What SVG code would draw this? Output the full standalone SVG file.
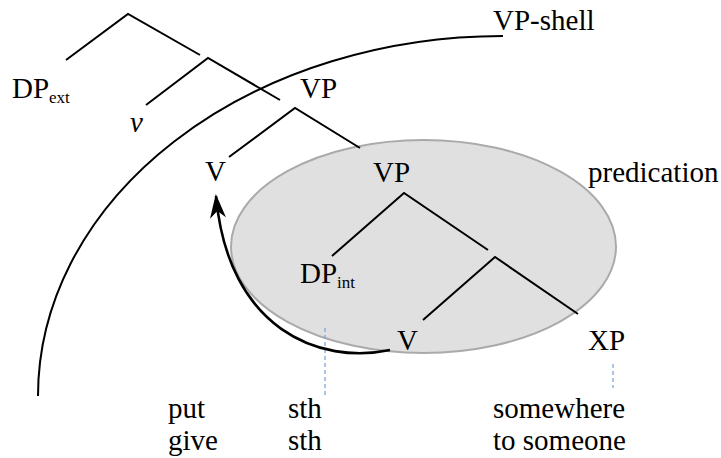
<svg xmlns="http://www.w3.org/2000/svg" width="721" height="458" viewBox="0 0 721 458">
<style>
text{font-family:"Liberation Serif","Times New Roman",serif;font-size:29px;fill:#000}
.sub{font-size:17px}
.br{stroke:#000;stroke-width:2;fill:none}
.arr{stroke:#000;stroke-width:2.6;fill:none}
.dash{stroke:#7fa8d8;stroke-width:1.3;stroke-dasharray:4,3;fill:none}
</style>
<defs>
<marker id="ah" markerWidth="26" markerHeight="20" refX="22" refY="10" orient="auto" markerUnits="userSpaceOnUse">
<path d="M0,2 L24,10 L0,18 L7,10 Z" fill="#000"/>
</marker>
</defs>
<g id="predication-region">
<ellipse cx="423.5" cy="246.5" rx="192.5" ry="106.5" fill="#e0e0e0" stroke="#aaaaaa" stroke-width="2"/>
<text x="588" y="182">predication</text>
</g>
<g id="vp-shell">
<path d="M38,396 A465,360 0 0 1 503,36" class="br"/>
<text x="493" y="30">VP-shell</text>
</g>
<g id="connectors">
<path class="br" d="M66,60 L128,14 L200,55"/>
<path class="br" d="M146,105 L208,58 L280,100"/>
<path class="br" d="M229,157 L295,108 L360,148"/>
<path class="br" d="M332,256 L404,193 L488,250"/>
<path class="br" d="M423,320 L495,257 L578,314"/>
<path class="dash" d="M325,328 L325,397"/>
<path class="dash" d="M613,364 L613,388"/>
<path class="arr" d="M390,350 C320,365 228,330 216,196" marker-end="url(#ah)"/>
</g>
<g id="node-DPext"><text x="12" y="98">DP<tspan class="sub" dy="5">ext</tspan></text></g>
<g id="node-v"><text x="130" y="132" font-style="italic">v</text></g>
<g id="node-VP1"><text x="300" y="98">VP</text></g>
<g id="node-V1"><text x="205" y="181">V</text></g>
<g id="node-VP2"><text x="373" y="182">VP</text></g>
<g id="node-DPint"><text x="300" y="283">DP<tspan class="sub" dy="5">int</tspan></text></g>
<g id="node-V2"><text x="397" y="350">V</text></g>
<g id="node-XP"><text x="588" y="350">XP</text></g>
<g id="examples">
<text x="168" y="418">put</text>
<text x="168" y="450">give</text>
<text x="288" y="418">sth</text>
<text x="288" y="450">sth</text>
<text x="493" y="418">somewhere</text>
<text x="493" y="450">to someone</text>
</g>
</svg>
